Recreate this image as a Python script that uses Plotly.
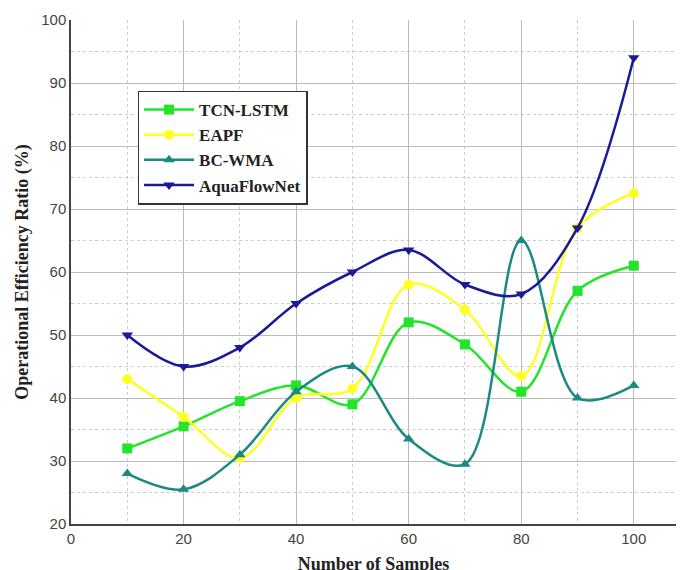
import plotly.graph_objects as go

x = [10, 20, 30, 40, 50, 60, 70, 80, 90, 100]
tcn_lstm = [32, 35.5, 39.5, 42, 39, 52, 48.5, 41, 57, 61]
eapf = [43, 37, 30.5, 40, 41.5, 58, 54, 43.5, 67, 72.5]
bc_wma = [28, 25.5, 31, 41, 45, 33.5, 29.5, 65, 40, 42]
aquaflownet = [50, 45, 48, 55, 60, 63.5, 58, 56.5, 67, 94]

series = [
    ("TCN-LSTM", tcn_lstm, "#22e52a", "square"),
    ("EAPF", eapf, "#ffff22", "circle"),
    ("BC-WMA", bc_wma, "#1a8a82", "triangle-up"),
    ("AquaFlowNet", aquaflownet, "#1a1a99", "triangle-down"),
]

fig = go.Figure()
for name, y, c, m in series:
    fig.add_trace(go.Scatter(x=x, y=y, name="<b>" + name + "</b>", mode="lines+markers",
                             line=dict(color=c, width=2.5, shape="spline", smoothing=1.0),
                             marker=dict(symbol=m, size=10, color=c)))

common = dict(showgrid=True, gridcolor="#bbbbbb", gridwidth=1, automargin=False,
              showline=True, linecolor="#444", linewidth=1.5, mirror=False,
              zeroline=False, ticks="", tickfont=dict(family="Liberation Sans", size=15, color="#444"))

fig.update_layout(
    width=685, height=570, paper_bgcolor="white", plot_bgcolor="white",
    margin=dict(l=63, r=17, t=12, b=54),
    showlegend=True,
    legend=dict(x=0.11, y=0.86, xanchor="left", yanchor="top",
                bgcolor="white", bordercolor="#333", borderwidth=1.5,
                font=dict(family="Liberation Serif", size=17, color="#222"),
                tracegroupgap=0, itemwidth=50),
    xaxis=dict(range=[0, 107.5], tick0=0, dtick=20,
               minor=dict(dtick=10, showgrid=True, gridcolor="#cccccc", griddash="dot"),
               title=dict(text="<b>Number of Samples</b>", font=dict(family="Liberation Serif", size=18, color="#222"), standoff=12),
               **common),
    yaxis=dict(range=[20, 100], tick0=20, dtick=10,
               minor=dict(dtick=5, showgrid=True, gridcolor="#cccccc", griddash="dot"),
               title=dict(text="<b>Operational Efficiency Ratio (%)</b>", font=dict(family="Liberation Serif", size=18, color="#222"), standoff=8),
               **common),
)
fig.write_html("out.html")
